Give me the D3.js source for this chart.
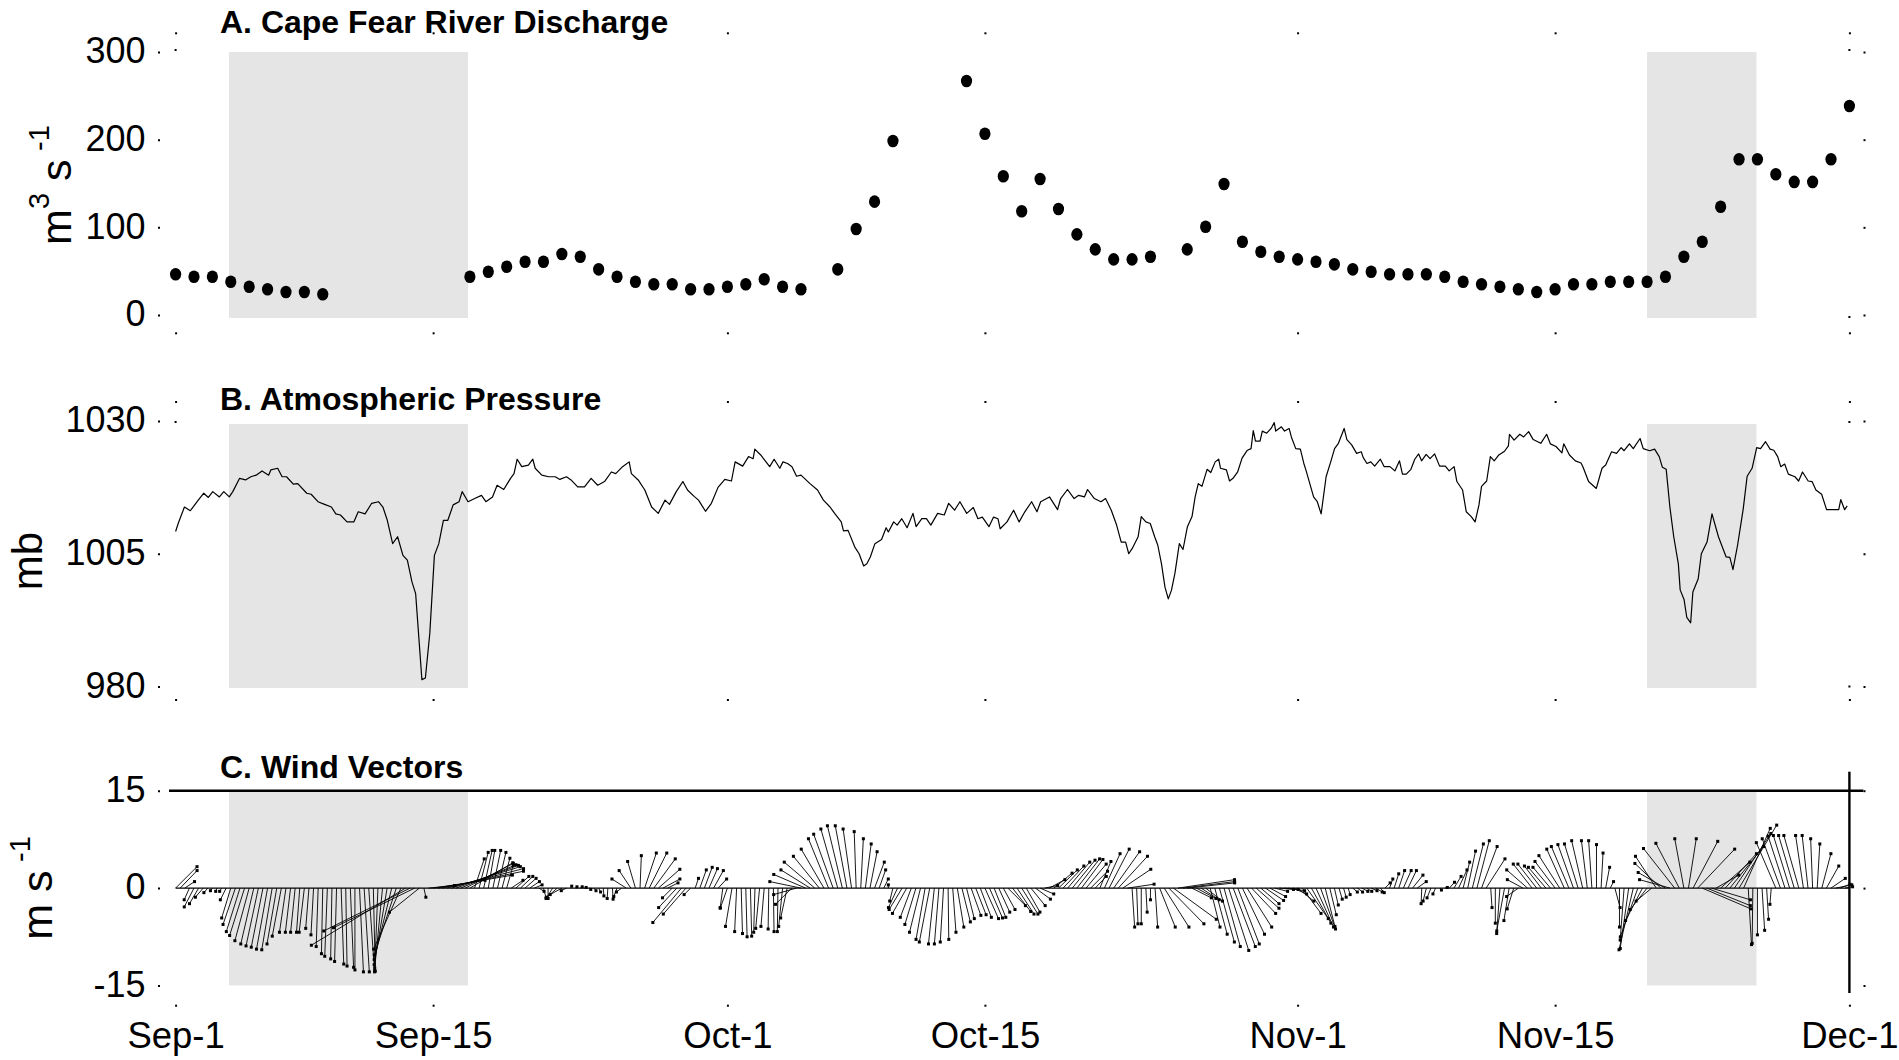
<!DOCTYPE html>
<html>
<head>
<meta charset="utf-8">
<script src="https://cdn.jsdelivr.net/npm/d3@7"></script>
<style>
  html, body { margin: 0; padding: 0; background: #fff; }
  svg { display: block; }
</style>
</head>
<body>
<svg id="chart" width="1899" height="1060"></svg>
<script>
// ---- time frame: all series are given in days after Sep 1, 00:00 UTC ----
const startDate = Date.UTC(2005, 8, 1);
const endDate = Date.UTC(2005, 11, 1);

const dateTicks = ["2005-09-01", "2005-09-15", "2005-10-01", "2005-10-15", "2005-11-01", "2005-11-15", "2005-12-01"];
const dischargeTicks = [0, 100, 200, 300];
const pressureTicks = [980, 1005, 1030];
const windTicks = [-15, 0, 15];

// storm periods (days after Sep 1)
const stormStart = [2.9, 80.0];
const stormEnd = [15.9, 85.95];

// A. daily mean river discharge (m3/s), one value per day from Sep 1; null = no record
const discharge = [
  46.4, 43.7, 43.7, 38.0, 32.3, 29.3, 26.2, 26.2, 23.6, null,
  null, null, null, null, null, null, 43.7, 49.4, 55.1, 60.8,
  60.8, 69.6, 66.5, 52.1, 43.7, 38.0, 35.0, 35.0, 29.3, 29.3,
  32.3, 35.0, 40.7, 32.3, 29.3, null, 52.1, 98.1, 129.3, 198.5,
  null, null, null, 266.9, 206.8, 158.2, 118.3, 155.1, 120.9, 92.0,
  74.9, 63.5, 63.5, 66.5, null, 74.9, 100.7, 149.4, 83.6, 72.2,
  66.5, 63.5, 60.8, 57.8, 52.1, 49.4, 46.4, 46.4, 46.4, 43.7,
  38.0, 35.0, 32.3, 29.3, 26.2, 29.3, 35.0, 35.0, 38.0, 38.0,
  38.0, 43.7, 66.5, 83.6, 123.5, 177.6, 177.6, 160.5, 151.8, 151.8,
  177.6, 238.4
];

// B. atmospheric pressure, [day, mb]
const pressure = [
  [0,1009.2],[0.15,1010.8],[0.48,1013.8],[0.8,1013.1],[1.17,1014.8],[1.53,1016.4],[1.78,1015.6],[2.02,1016.7],
  [2.38,1015.7],[2.62,1016.7],[2.92,1015.7],[3.11,1016.7],[3.48,1019.2],[3.8,1018.9],[4.09,1019.5],[4.38,1019.8],
  [4.7,1020.6],[5.06,1019.8],[5.18,1020.8],[5.55,1021.1],[5.79,1019.5],[6.03,1019.5],[6.4,1018.1],[6.64,1018.2],
  [7.13,1016.4],[7.37,1016.2],[7.74,1014.8],[8.1,1014.3],[8.47,1013.8],[8.71,1012.5],[8.96,1012.3],[9.32,1011.0],
  [9.69,1011.0],[9.93,1012.9],[10.3,1012.5],[10.66,1014.5],[11.03,1014.8],[11.27,1013.8],[11.51,1011.3],[11.8,1006.9],
  [12.07,1008.2],[12.36,1004.7],[12.6,1003.8],[12.85,999.7],[13.05,997.5],[13.39,981.3],[13.58,981.6],[13.82,990.0],
  [14.07,1004.7],[14.31,1006.9],[14.56,1011.3],[14.8,1011.3],[15.09,1014.2],[15.41,1014.8],[15.58,1016.7],[15.9,1014.8],
  [16.26,1015.4],[16.63,1016.0],[16.87,1014.8],[17.23,1015.7],[17.48,1017.9],[17.84,1017.1],[18.21,1019.2],[18.4,1020.1],
  [18.57,1022.8],[18.82,1021.4],[19.18,1021.7],[19.42,1022.8],[19.55,1021.1],[19.91,1019.8],[20.28,1019.5],[20.64,1019.5],
  [20.89,1019.0],[21.25,1019.5],[21.5,1018.9],[21.86,1017.6],[22.23,1017.6],[22.59,1019.2],[22.95,1017.9],[23.32,1018.6],
  [23.69,1020.4],[23.93,1020.1],[24.3,1021.4],[24.66,1022.3],[24.78,1020.1],[25.15,1018.9],[25.51,1017.0],[25.88,1013.8],
  [26.24,1012.6],[26.61,1015.1],[26.85,1014.3],[27.22,1016.7],[27.58,1018.6],[27.83,1017.0],[28.19,1015.8],[28.43,1015.1],
  [28.81,1013.0],[29.13,1014.5],[29.49,1017.5],[29.86,1019.0],[30.22,1018.7],[30.42,1022.3],[30.83,1021.5],[31.15,1023.3],
  [31.4,1022.9],[31.49,1024.7],[31.81,1023.6],[32.3,1021.4],[32.54,1022.8],[32.85,1021.1],[33.02,1022.3],[33.27,1022.0],
  [33.51,1021.4],[33.76,1019.6],[34.0,1019.8],[34.49,1018.2],[34.9,1017.0],[35.22,1015.1],[35.58,1013.8],[35.83,1012.6],
  [36.19,1011.0],[36.31,1009.3],[36.56,1009.4],[36.92,1006.3],[37.16,1005.0],[37.41,1002.7],[37.58,1003.1],[37.77,1004.4],
  [38.02,1006.9],[38.38,1007.7],[38.63,1009.9],[38.75,1009.1],[39.04,1011.0],[39.23,1010.4],[39.48,1011.6],[39.77,1009.9],
  [40.09,1012.6],[40.26,1010.1],[40.57,1011.6],[40.82,1011.6],[41.06,1010.4],[41.43,1012.6],[41.79,1012.3],[42.03,1014.5],
  [42.35,1013.2],[42.64,1014.8],[43.01,1012.6],[43.37,1013.7],[43.62,1011.6],[43.86,1011.9],[44.22,1010.1],[44.47,1011.9],
  [44.71,1011.6],[44.83,1009.7],[45.2,1011.0],[45.56,1013.2],[45.86,1011.0],[46.17,1012.9],[46.54,1014.8],[46.83,1012.9],
  [47.03,1014.8],[47.51,1015.7],[47.95,1013.3],[48.12,1015.4],[48.49,1017.1],[48.85,1015.4],[49.1,1016.0],[49.41,1015.7],
  [49.58,1017.1],[49.95,1015.4],[50.31,1014.8],[50.56,1015.4],[50.87,1013.2],[51.16,1010.4],[51.41,1007.2],[51.65,1007.2],
  [51.82,1005.0],[52.01,1006.0],[52.33,1008.2],[52.5,1012.0],[52.75,1011.0],[52.99,1010.7],[53.23,1008.2],[53.4,1006.6],
  [53.6,1003.1],[53.79,998.7],[53.97,996.5],[54.14,998.1],[54.33,1001.3],[54.57,1006.9],[54.77,1005.8],[55.01,1010.1],
  [55.26,1012.0],[55.43,1015.7],[55.6,1018.2],[55.8,1017.7],[56.08,1020.9],[56.28,1020.3],[56.52,1022.3],[56.71,1022.8],
  [56.81,1021.1],[57.13,1020.8],[57.3,1018.7],[57.49,1019.2],[57.74,1020.4],[57.98,1023.0],[58.27,1024.5],[58.47,1024.8],
  [58.59,1028.2],[58.71,1026.2],[58.96,1026.2],[59.08,1028.1],[59.32,1027.7],[59.56,1028.6],[59.73,1029.7],[59.81,1028.1],
  [60.12,1028.9],[60.29,1028.1],[60.54,1028.6],[60.66,1027.0],[60.9,1024.8],[61.15,1024.7],[61.34,1022.0],[61.45,1020.8],
  [61.87,1015.7],[62.07,1014.8],[62.28,1012.5],[62.55,1019.5],[62.8,1022.3],[63.01,1024.8],[63.22,1025.8],[63.53,1028.6],
  [63.68,1026.5],[63.94,1025.5],[64.21,1023.9],[64.46,1024.2],[64.57,1023.1],[64.77,1022.0],[64.98,1022.3],[65.19,1021.5],
  [65.5,1022.8],[65.71,1021.4],[66.02,1021.4],[66.29,1020.6],[66.54,1022.5],[66.7,1020.0],[66.91,1020.0],[67.16,1020.9],
  [67.37,1022.8],[67.58,1023.8],[67.74,1022.5],[67.99,1023.7],[68.2,1022.9],[68.45,1023.8],[68.72,1021.5],[69.03,1021.5],
  [69.24,1020.6],[69.51,1021.4],[69.66,1018.6],[69.97,1017.0],[70.17,1012.9],[70.44,1012.0],[70.65,1011.0],[70.86,1014.2],
  [71.0,1017.7],[71.28,1018.7],[71.48,1023.3],[71.69,1022.5],[71.94,1023.6],[72.25,1024.3],[72.46,1025.3],[72.52,1027.5],
  [72.77,1026.4],[73.08,1027.5],[73.29,1027.0],[73.56,1028.0],[73.81,1026.5],[74.22,1025.8],[74.54,1027.5],[74.74,1025.7],
  [75.05,1025.2],[75.37,1024.0],[75.47,1025.7],[75.78,1023.6],[76.1,1022.5],[76.41,1022.1],[76.51,1021.4],[76.82,1018.6],
  [77.24,1017.3],[77.55,1021.1],[77.75,1021.7],[78.07,1024.2],[78.34,1023.9],[78.59,1025.0],[78.75,1024.4],[79.04,1025.7],
  [79.25,1024.8],[79.62,1026.7],[79.79,1024.8],[80.14,1024.4],[80.41,1024.7],[80.66,1023.3],[80.83,1021.3],[81.04,1020.9],
  [81.24,1013.8],[81.45,1008.2],[81.7,1003.1],[81.8,998.2],[82.01,996.4],[82.16,993.0],[82.37,992.0],[82.49,997.8],
  [82.78,1000.3],[82.95,1005.0],[83.26,1007.2],[83.53,1012.5],[83.88,1008.2],[84.3,1004.4],[84.5,1004.3],[84.67,1002.0],
  [84.92,1006.6],[85.23,1013.5],[85.44,1019.6],[85.71,1021.1],[85.96,1025.0],[86.17,1024.8],[86.44,1026.1],[86.69,1024.7],
  [86.89,1024.5],[87.1,1023.3],[87.27,1021.4],[87.48,1021.9],[87.68,1020.0],[88.04,1019.5],[88.24,1018.7],[88.45,1020.4],
  [88.76,1018.7],[88.97,1018.6],[89.18,1017.0],[89.49,1016.2],[89.76,1013.3],[90.11,1013.3],[90.42,1013.3],[90.53,1015.2],
  [90.74,1013.3],[90.88,1014.0]
];

// C. wind velocity components (m/s), every 6 hours from Sep 1 00:00
const windStep = 0.25;
const windU = [
   3.3, 2.6, 1.5,-0.8,  -1.5,-1.4,-1.2,-0.6,  -0.3,-0.2,-0.3,-0.9,  -1.4,-1.9,-2.1,-2.3,
  -2.2,-2.0,-1.9,-1.8,  -1.7,-1.6,-1.5,-1.4,  -1.0,-0.8,-0.7,-0.5,  -0.8,-0.5,-0.4,-0.3,
  -0.2,-0.4,-0.2,-0.3,   0.4, 0.2, 0.5, 0.0,   0.6, 0.8, 0.9, 0.3,  -0.5,-1.2,-2.0,-2.7,
  -3.4,-4.2,-14.5,-13.3, -12.5,-4.6,0.3,4.0,  8.0,11.5,12.5,11.8,  10.6, 9.6, 8.5, 7.4,
   6.6, 1.5, 1.4, 1.3,   1.0, 1.2, 1.3, 1.2,   1.0, 1.8, 2.0, 1.9,   1.7, 1.5, 1.2, 0.8,
   0.4, 0.0,-1.0,-1.6,  -1.8,-0.8, 0.1, 0.2,   0.3, 0.2, 0.2, 0.3,   0.3, 0.1,-0.1, 0.1,
  -0.5,-0.8,-2.2,-1.8,  -1.2, 0.2, 1.8, 2.7,   3.3, 3.3, 2.6, 1.6,  -1.5,-2.8,-4.4,-3.5,
  -1.0, 0.5, 1.0, 1.2,   1.3, 1.5, 1.3,-0.4,  -1.1,-1.0,-0.3, 0.2,   0.2, 0.2,-0.2,-0.6,
  -0.5,-0.1, 0.1,-0.1,  -0.6,-1.0,-2.5,-3.5,  -4.8,-4.9,-4.5,-4.7,  -4.0,-3.5,-3.1,-3.0,
  -2.6,-2.3,-1.8,-1.3,  -0.3, 0.4, 0.9, 1.1,   1.5, 1.0, 0.7, 0.0,  -0.5,-1.4,-2.0,-2.2,
  -1.7,-1.7,-1.7,-1.4,  -1.6,-0.9,-0.7,-0.5,   0.1, 0.5, 1.0, 1.3,   1.2, 1.5, 1.6, 1.7,
   2.1, 2.0, 1.8, 1.7,   1.8, 2.7, 2.8, 2.6,   2.5, 2.1, 2.2, 2.3,   2.1, 2.0, 2.4, 2.8,
   2.9, 3.2, 3.4, 3.5,   3.5, 3.3, 3.1, 2.6,   1.7, 1.7, 2.4, 3.1,   4.0, 4.5, 4.3, 4.1,
   0.4, 0.2, 0.0, 0.2,   0.0, 0.4, 2.4, 3.8,   5.4, 6.6, 8.7, 8.0,   7.3, 3.0, 3.0, 2.8,
   2.6, 1.5, 1.9, 2.3,   2.5, 3.1, 3.4, 3.3,   3.4, 3.8, 3.7, 3.5,   2.8, 2.8, 2.4, 2.0,
   2.2, 2.2, 2.5, 2.1,   2.5, 2.9, 3.3, 3.0,   2.7, 2.3, 1.5, 1.0,   0.6, 0.5, 0.4, 0.3,
   0.7, 0.8, 0.9, 0.8,   0.9, 1.0, 0.6, 0.8,   0.5, 0.7, 0.9, 1.2,   1.3, 1.6, 1.4,-0.1,
  -0.5,-0.6,-0.4, 0.2,   0.4, 0.8, 1.1, 1.3,   1.0, 1.2, 1.7, 1.9,   2.4, 2.9, 0.2, 0.0,
  -0.5,-1.2,-0.8,-1.0,  -1.8,-2.4,-3.2,-2.9,  -2.9,-2.6,-2.7,-2.7,  -3.1,-3.2,-2.7,-2.7,
  -2.4,-2.1,-1.7,-0.9,  -0.5, 0.0, 0.3, 0.6,   0.5, 0.8, 0.0,-0.6,  -1.3,-2.2,-2.7,-2.6,
  -2.6,-2.4,-3.2,-4.0,  -4.2,-4.7,-4.8,-3.6,  -1.4, 1.2, 3.8, 5.7,   7.5, 6.7, 6.0, 3.5,
   4.5, 4.8, 5.2, 5.6,   5.8, 4.1, 0.5,-0.1,   0.0, 0.4, 0.3,-0.2,  -3.0,-2.8,-2.6,-2.5,
  -2.4,-2.3,-1.2,-0.9,  -0.3, 0.4, 1.4, 1.9,   2.2, 2.5, 1.5, 1.2
];
const windV = [
   3.3, 2.7, 1.0,-1.8,  -2.9,-2.4,-1.4,-0.7,  -0.4,-0.5,-0.5,-1.8,  -4.6,-5.6,-6.7,-7.3,
  -8.1,-8.6,-8.9,-9.1,  -9.4,-9.5,-8.6,-7.4,  -6.8,-6.8,-6.8,-6.8,  -6.8,-6.2,-7.2,-9.0,
 -10.1,-10.5,-10.9,-11.3, -11.7,-12.0,-12.2,-12.6, -12.9,-12.9,-12.9,-12.8, -12.7,-12.3,-11.8,-11.0,
 -10.3,-9.4,-8.8,-6.6,  -6.1,-3.7,-1.4, 0.4,   1.2, 2.0, 2.6, 3.0,   3.3, 3.5, 3.6, 3.8,
   3.9, 4.5, 5.5, 5.8,   5.8, 5.8, 5.5, 4.6,   3.5, 1.2, 1.8, 1.8,   1.5, 1.0, 0.5,-0.5,
  -1.5,-1.6,-1.6,-1.4,  -1.0,-0.4, 0.3, 0.2,   0.2, 0.1,-0.2,-0.4,  -0.6,-1.2,-1.6,-1.7,
  -1.3,-0.6, 1.4, 2.7,   4.1, 5.0, 5.4, 5.4,   4.5, 2.9, 1.4, 0.8,  -1.5,-3.0,-5.3,-4.0,
  -1.0, 1.5, 2.8, 3.2,   3.0, 2.7, 1.4,-3.0,  -3.1,-5.9,-6.7,-7.0,  -7.5,-7.4,-6.8,-6.2,
  -5.9,-6.3,-6.7,-6.7,  -5.9,-4.6,-2.5,-1.0,   1.0, 2.1, 2.8, 4.0,   4.9, 6.0, 7.6, 8.3,
   9.1, 9.6, 9.6, 9.1,   8.7, 7.6, 6.8, 5.6,   4.0, 2.8, 1.4, 0.5,  -2.0,-3.0,-3.3,-3.9,
  -4.5,-5.6,-6.8,-7.9,  -8.3,-8.6,-8.6,-8.3,  -7.9,-6.8,-6.0,-5.2,  -4.7,-4.2,-4.1,-4.5,
  -4.7,-4.6,-4.5,-3.7,  -3.3,-2.7,-3.6,-4.0,  -4.0,-3.7,-2.7,-1.7,  -0.9, 0.4, 1.3, 2.3,
   2.8, 3.4, 4.0, 4.3,   4.5, 4.4, 3.7, 2.6,   1.8, 4.1, 5.3, 6.0,   5.6, 4.9, 2.9, 0.6,
  -6.0,-5.5,-5.5,-3.7,  -1.8,-6.0,-6.0,-6.0,  -5.5,-4.8, 1.3, 1.0,   0.8,-1.5,-1.6,-1.8,
  -2.0,-6.0,-7.1,-8.3,  -9.0,-9.6,-9.0,-8.6,  -7.1,-6.0,-3.9,-3.1,  -2.4,-1.9,-1.3,-0.5,
  -0.2,-0.2,-0.4,-0.9,  -2.0,-3.9,-4.7,-5.4,  -6.0,-6.3,-5.9,-4.1,  -2.6,-1.7,-1.4,-1.0,
  -0.6,-0.6,-0.5,-0.5,  -0.4,-0.6,-0.7, 0.8,   1.4, 2.2, 2.7, 2.7,   2.7, 2.0, 1.0,-2.4,
  -2.0,-1.5,-0.9,-0.3,   0.1, 0.9, 1.8, 2.8,   4.0, 5.7, 6.8, 7.3,   6.4, 4.5,-3.0,-5.4,
  -7.0,-6.6,-5.0,-3.2,  -1.3, 1.3, 2.8, 3.7,   3.7, 3.4, 3.2, 3.2,   4.1, 5.0, 6.0, 6.4,
   6.7, 6.8, 7.3, 7.3,   7.3, 6.7, 5.4, 3.2,   1.0,-3.0,-6.0,-8.0,  -9.3,-9.5,-7.5,-5.0,
  -3.3,-2.0, 4.9, 3.8,   2.4, 1.3, 6.1, 6.9,   7.6, 7.6, 7.2, 6.0,  -3.2,-2.7,-1.8, 2.0,
   4.0, 5.3, 6.4, 8.4,   9.7, 9.2,-8.7,-8.5,  -7.2,-6.5,-4.8,-2.5,   7.0, 7.6, 8.0, 8.1,
   8.1, 8.1, 8.1, 8.1,   7.6, 6.8, 5.3, 3.4,   1.5, 0.5, 0.6, 0.2
];

// ---------------------------------------------------------------------------
const FONT = '"Liberation Sans", Arial, Helvetica, sans-serif';
const svg = d3.select("#chart").attr("font-family", FONT);
const day = d => new Date(startDate + d * 864e5);

const x = d3.scaleUtc().domain([new Date(startDate), new Date(endDate)]).range([175.6, 1849.4]);
const yA = d3.scaleLinear().domain([0, 300]).range([315, 52]);
const yB = d3.scaleLinear().domain([980, 1030]).range([686.5, 421]);
const yC = d3.scaleLinear().domain([-15, 15]).range([985.5, 790.7]);
const dateValues = dateTicks.map(s => new Date(s + "T00:00:00Z"));
const x0 = x(new Date(startDate)), x1 = x(new Date(endDate));

// grey storm bands in every panel
const spans = stormStart.map((s, i) => [s, stormEnd[i]]);
[[yA(300), yA(0) + 3], [yB(1030) + 3, yB(980) + 1.5], [yC(15), yC(-15)]].forEach(([top, bottom]) => {
  svg.append("g").selectAll("rect").data(spans).join("rect")
    .attr("x", d => x(day(d[0])))
    .attr("width", d => x(day(d[1])) - x(day(d[0])))
    .attr("y", top).attr("height", bottom - top)
    .attr("fill", "#e5e5e5");
});

// axes drawn as small tick dots only
function dotStyle(g) {
  g.select(".domain").remove();
  g.selectAll(".tick line").attr("stroke", "#000").attr("stroke-width", 2);
  g.attr("font-family", FONT);
}
function valueAxes(scale, ticks) {
  svg.append("g").attr("transform", "translate(160,0)")
    .call(d3.axisLeft(scale).tickValues(ticks).tickSize(2).tickPadding(12.5).tickFormat(d => String(d)))
    .call(dotStyle).attr("font-size", 36)
    .selectAll("text").attr("dy", "0.3em");
  svg.append("g").attr("transform", "translate(1863.5,0)")
    .call(d3.axisRight(scale).tickValues(ticks).tickSize(2).tickFormat(""))
    .call(dotStyle);
}
valueAxes(yA, dischargeTicks);
valueAxes(yB, pressureTicks);
valueAxes(yC, windTicks);

function dateDots(yTop, yBottom) {
  svg.append("g").attr("transform", `translate(0,${yTop})`)
    .call(d3.axisTop(x).tickValues(dateValues).tickSize(2).tickFormat("")).call(dotStyle);
  svg.append("g").attr("transform", `translate(0,${yBottom})`)
    .call(d3.axisBottom(x).tickValues(dateValues).tickSize(2).tickFormat("")).call(dotStyle);
}
dateDots(34.3, 332.3);
dateDots(403, 699);

// corner marks of panels A and B
const corners = [[x0, yA(300) - 2], [x1, yA(300) - 2], [x1, yA(0) + 2],
                 [x0, yB(1030) + 1], [x1, yB(1030) + 1], [x1, yB(980)]];
svg.append("g").selectAll("rect").data(corners).join("rect")
  .attr("x", d => d[0] - 1).attr("y", d => d[1] - 1).attr("width", 2).attr("height", 2).attr("fill", "#000");

// date labels under panel C
svg.append("g").attr("transform", "translate(0,1004.7)")
  .call(d3.axisBottom(x).tickValues(dateValues).tickSize(2).tickPadding(15).tickFormat(d3.utcFormat("%b-%-d")))
  .call(dotStyle).attr("font-size", 36.5);

// ---- A: discharge dots ----
svg.append("g").selectAll("ellipse")
  .data(discharge.map((v, i) => [i, v]).filter(d => d[1] != null))
  .join("ellipse")
  .attr("cx", d => x(day(d[0])))
  .attr("cy", d => yA(d[1]))
  .attr("rx", 5.6).attr("ry", 6.3)
  .attr("fill", "#000");

// ---- B: pressure line ----
svg.append("path").datum(pressure)
  .attr("d", d3.line().x(d => x(day(d[0]))).y(d => yB(d[1])))
  .attr("fill", "none").attr("stroke", "#000").attr("stroke-width", 1.2)
  .attr("stroke-linejoin", "round");

// ---- C: wind stick plot ----
const pxPerMs = yC(0) - yC(1);
const sticks = windU.map((u, i) => ({ t: i * windStep, u, v: windV[i] }));
svg.append("line").attr("x1", x0).attr("x2", x1).attr("y1", yC(0)).attr("y2", yC(0))
  .attr("stroke", "#000").attr("stroke-width", 1.2);
const stickG = svg.append("g");
stickG.selectAll("line").data(sticks).join("line")
  .attr("x1", d => x(day(d.t))).attr("y1", yC(0))
  .attr("x2", d => x(day(d.t)) + d.u * pxPerMs).attr("y2", d => yC(d.v))
  .attr("stroke", "#000").attr("stroke-width", 0.9);
stickG.selectAll("rect").data(sticks).join("rect")
  .attr("x", d => x(day(d.t)) + d.u * pxPerMs - 1.5).attr("y", d => yC(d.v) - 1.5)
  .attr("width", 3).attr("height", 3).attr("fill", "#000");

// frame lines of panel C
svg.append("line").attr("x1", x0 - 6.6).attr("x2", x1 + 14).attr("y1", yC(15)).attr("y2", yC(15))
  .attr("stroke", "#000").attr("stroke-width", 2.4);
svg.append("line").attr("x1", x1).attr("x2", x1).attr("y1", yC(15) - 19).attr("y2", yC(-15) + 7.5)
  .attr("stroke", "#000").attr("stroke-width", 2.4);

// ---- panel titles ----
const titles = [["A. Cape Fear River Discharge", 33], ["B. Atmospheric Pressure", 410], ["C. Wind Vectors", 778]];
svg.append("g").selectAll("text").data(titles).join("text")
  .attr("x", 220).attr("y", d => d[1])
  .attr("font-size", 32).attr("font-weight", "bold")
  .text(d => d[0]);

// ---- axis titles (rotated) ----
function unitLabel(cx, cy, size, parts) {
  const supSize = Math.round(size * 0.68), rise = Math.round(size * 0.5);
  const t = svg.append("text")
    .attr("transform", `translate(${cx},${cy}) rotate(-90)`)
    .attr("text-anchor", "middle").attr("font-size", size);
  let raised = false;
  parts.forEach(([str, sup]) => {
    const shift = sup && !raised ? -rise : (!sup && raised ? rise : 0);
    raised = sup;
    t.append("tspan").attr("font-size", sup ? supSize : size).attr("dy", shift).text(str);
  });
}
unitLabel(70.5, 185, 43, [["m", false], ["3", true], ["\u00a0s\u2009", false], ["-1", true]]);
unitLabel(42, 561, 42, [["mb", false]]);
unitLabel(52, 888, 43, [["m\u00a0s\u2009", false], ["-1", true]]);
</script>
</body>
</html>
